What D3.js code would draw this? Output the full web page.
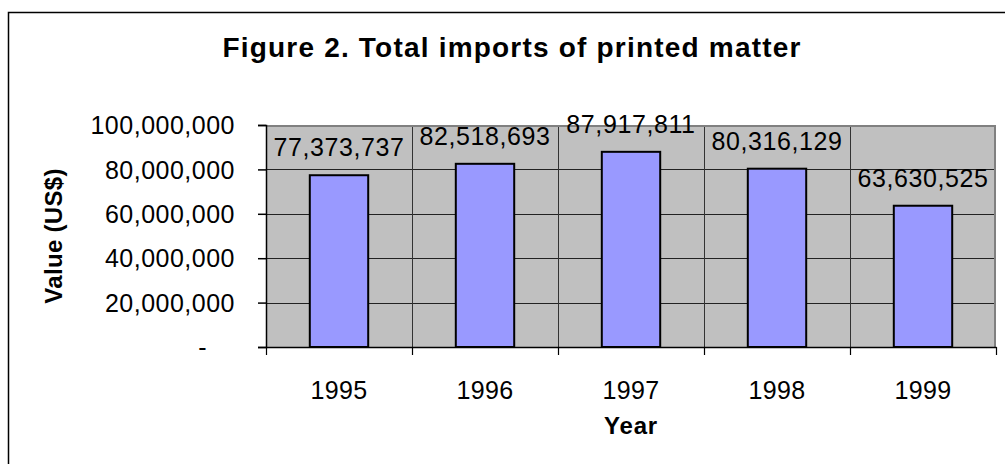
<!DOCTYPE html>
<html>
<head>
<meta charset="utf-8">
<script src="https://cdn.jsdelivr.net/npm/d3@7"></script>
<style>
  html, body { margin: 0; padding: 0; background: #fff; }
  svg { display: block; font-family: "Liberation Sans", Arial, sans-serif; }
</style>
</head>
<body>
<svg id="chart" width="1005" height="464"></svg>
<script>
// Total imports of printed matter, by year (US$)
const years = ["1995", "1996", "1997", "1998", "1999"];
const importValues = [77373737, 82518693, 87917811, 80316129, 63630525];
const yTickValues = [0, 20000000, 40000000, 60000000, 80000000, 100000000];
const yTickLabels = ["-", "20,000,000", "40,000,000", "60,000,000", "80,000,000", "100,000,000"];

const svg = d3.select("#chart");
const W = 1005, H = 464;
const plot = { left: 266, top: 125, right: 996, bottom: 347 };

// outer chart frame
svg.append("rect")
  .attr("x", 8.5).attr("y", 12.5)
  .attr("width", W + 20).attr("height", H + 20)
  .attr("fill", "#fff").attr("stroke", "#000").attr("stroke-width", 1.5);

const x = d3.scaleBand().domain(years).range([plot.left, plot.right]).paddingInner(0).paddingOuter(0);
const y = d3.scaleLinear().domain([0, 100000000]).range([plot.bottom, plot.top]);

// plot background
svg.append("rect")
  .attr("x", plot.left).attr("y", plot.top)
  .attr("width", plot.right - plot.left).attr("height", plot.bottom - plot.top)
  .attr("fill", "#c0c0c0");

// horizontal gridlines
svg.append("g")
  .selectAll("line")
  .data(yTickValues.slice(1, -1))
  .join("line")
  .attr("x1", plot.left).attr("x2", plot.right)
  .attr("y1", d => Math.round(y(d)) + 0.5).attr("y2", d => Math.round(y(d)) + 0.5)
  .attr("stroke", "#222").attr("stroke-width", 1);

// vertical gridlines at category boundaries
svg.append("g")
  .selectAll("line")
  .data(years.slice(1))
  .join("line")
  .attr("x1", d => Math.round(x(d)) + 0.5).attr("x2", d => Math.round(x(d)) + 0.5)
  .attr("y1", plot.top).attr("y2", plot.bottom)
  .attr("stroke", "#333").attr("stroke-width", 1);

// plot border (top and right)
svg.append("path")
  .attr("d", `M${plot.left},${plot.top + 1}H${plot.right - 1}V${plot.bottom}`)
  .attr("fill", "none").attr("stroke", "#808080").attr("stroke-width", 2);

// bars
const barW = x.bandwidth() * 0.4;
svg.append("g")
  .selectAll("rect")
  .data(years.map((yr, i) => ({ yr, v: importValues[i] })))
  .join("rect")
  .attr("x", d => x(d.yr) + (x.bandwidth() - barW) / 2)
  .attr("y", d => y(d.v))
  .attr("width", barW)
  .attr("height", d => y(0) - y(d.v))
  .attr("fill", "#9999ff")
  .attr("stroke", "#000").attr("stroke-width", 2);

// value labels
const fmt = d3.format(",");
svg.append("g")
  .selectAll("text")
  .data(years.map((yr, i) => ({ yr, v: importValues[i] })))
  .join("text")
  .attr("x", d => x(d.yr) + x.bandwidth() / 2)
  .attr("y", d => y(d.v) - 19)
  .attr("text-anchor", "middle")
  .attr("font-size", 25)
  .attr("letter-spacing", 0.6)
  .attr("fill", "#000")
  .text(d => fmt(d.v));

// y axis
const yAxis = d3.axisLeft(y)
  .tickValues(yTickValues)
  .tickFormat((d, i) => yTickLabels[i])
  .tickSize(8).tickPadding(23);
const gy = svg.append("g").attr("transform", `translate(${plot.left},0)`).call(yAxis);
gy.select(".domain").attr("stroke", "#000").attr("stroke-width", 1.5);
gy.selectAll(".tick line").attr("stroke", "#000").attr("stroke-width", 1.5);
gy.selectAll(".tick text")
  .attr("font-size", 25).attr("font-family", "Liberation Sans, Arial, sans-serif")
  .attr("letter-spacing", 0.5)
  .attr("fill", "#000")
  .attr("dy", "0.35em")
  .attr("dx", (d, i) => yTickLabels[i] === "-" ? -28 : 0);

// x axis with ticks at category boundaries
const xAxis = d3.axisBottom(x).tickSize(0).tickPadding(34);
const gx = svg.append("g").attr("transform", `translate(0,${plot.bottom})`).call(xAxis);
gx.select(".domain").attr("stroke", "#000").attr("stroke-width", 1.5);
gx.selectAll(".tick text")
  .attr("font-size", 25).attr("font-family", "Liberation Sans, Arial, sans-serif")
  .attr("letter-spacing", 0.4)
  .attr("fill", "#000");
svg.append("g")
  .selectAll("line")
  .data(years.map(d => x(d)).concat([x.range()[1]]))
  .join("line")
  .attr("x1", d => Math.round(d) + 0.5).attr("x2", d => Math.round(d) + 0.5)
  .attr("y1", plot.bottom).attr("y2", plot.bottom + 8)
  .attr("stroke", "#000").attr("stroke-width", 1.2);

// title
svg.append("text")
  .attr("x", 512).attr("y", 57)
  .attr("text-anchor", "middle")
  .attr("font-size", 28).attr("font-weight", "bold")
  .attr("letter-spacing", 1.2)
  .text("Figure 2. Total imports of printed matter");

// axis titles
svg.append("text")
  .attr("x", 631).attr("y", 434)
  .attr("text-anchor", "middle")
  .attr("font-size", 24).attr("font-weight", "bold")
  .attr("letter-spacing", 0.8)
  .text("Year");

svg.append("text")
  .attr("transform", "translate(61.5,236) rotate(-90)")
  .attr("text-anchor", "middle")
  .attr("font-size", 24).attr("font-weight", "bold")
  .attr("letter-spacing", 0.3)
  .text("Value (US$)");
</script>
</body>
</html>
